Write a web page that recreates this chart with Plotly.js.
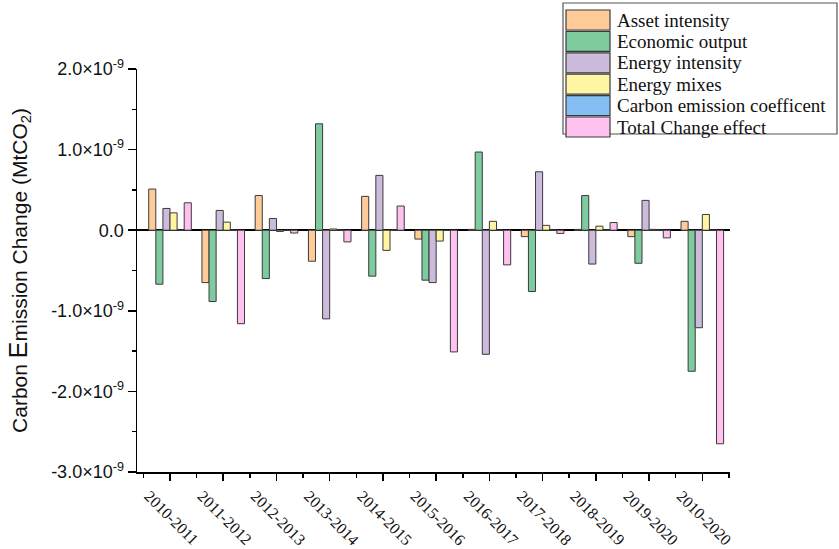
<!DOCTYPE html>
<html>
<head>
<meta charset="utf-8">
<script src="https://cdn.plot.ly/plotly-3.0.1.min.js"></script>
<style>html,body{margin:0;padding:0;background:#fff;}#chart{width:839px;height:549px;}</style>
</head>
<body>
<div id="chart"></div>
<script>
const categories = ["2010-2011","2011-2012","2012-2013","2013-2014","2014-2015","2015-2016","2016-2017","2017-2018","2018-2019","2019-2020","2010-2020"];
const assetIntensity   = [0.51e-9,-0.65e-9,0.43e-9,-0.385e-9,0.42e-9,-0.11e-9,0.01e-9,-0.08e-9,0.01e-9,-0.08e-9,0.11e-9];
const economicOutput   = [-0.67e-9,-0.885e-9,-0.60e-9,1.32e-9,-0.57e-9,-0.62e-9,0.97e-9,-0.76e-9,0.43e-9,-0.41e-9,-1.75e-9];
const energyIntensity  = [0.27e-9,0.245e-9,0.145e-9,-1.10e-9,0.68e-9,-0.65e-9,-1.54e-9,0.725e-9,-0.42e-9,0.37e-9,-1.21e-9];
const energyMixes      = [0.215e-9,0.10e-9,-0.015e-9,0.015e-9,-0.25e-9,-0.135e-9,0.11e-9,0.06e-9,0.05e-9,0.01e-9,0.195e-9];
const carbonCoeff      = [0.003e-9,0.003e-9,-0.003e-9,0.003e-9,0.003e-9,-0.003e-9,0.003e-9,0.003e-9,0.003e-9,0.003e-9,0.003e-9];
const totalChange      = [0.34e-9,-1.16e-9,-0.035e-9,-0.145e-9,0.30e-9,-1.51e-9,-0.43e-9,-0.04e-9,0.095e-9,-0.095e-9,-2.65e-9];
const yTickVals  = [-3e-9,-2e-9,-1e-9,0,1e-9,2e-9];
const yTickText  = ["-3.0×10<sup>-9</sup>","-2.0×10<sup>-9</sup>","-1.0×10<sup>-9</sup>","0.0","1.0×10<sup>-9</sup>","2.0×10<sup>-9</sup>"];

const xIdx = categories.map((_, i) => i);
const series = [
  {name: "Asset intensity", y: assetIntensity, color: "#FFCC99"},
  {name: "Economic output", y: economicOutput, color: "#7DCB9E"},
  {name: "Energy intensity", y: energyIntensity, color: "#CDBBDB"},
  {name: "Energy mixes", y: energyMixes, color: "#FFF5A3"},
  {name: "Carbon emission coefficent", y: carbonCoeff, color: "#84BEF4"},
  {name: "Total Change effect", y: totalChange, color: "#FFC2F0"}
];
const traces = series.map(s => ({
  type: "bar", x: xIdx, y: s.y, name: s.name, showlegend: false,
  marker: {color: s.color, line: {color: "#3a3a3a", width: 1}}
}));

// Plot area in pixels (for placing the legend box in paper coordinates)
const W = 839, H = 549, mL = 137, mR = 109, mT = 69, mB = 77;
const pw = W - mL - mR, ph = H - mT - mB;
const px2x = p => (p - mL) / pw;
const py2y = p => (H - mB - p) / ph;

const shapes = [{
  type: "rect", xref: "paper", yref: "paper",
  x0: px2x(563), x1: px2x(837), y0: py2y(3), y1: py2y(134),
  line: {color: "#555", width: 1.2}, fillcolor: "#fff", layer: "above"
}];
const annotations = [];
series.forEach((s, i) => {
  const cy = 20 + 21.4 * i;
  shapes.push({
    type: "rect", xref: "paper", yref: "paper",
    x0: px2x(566), x1: px2x(610), y0: py2y(cy + 10), y1: py2y(cy - 10),
    line: {color: "#3a3a3a", width: 1.2}, fillcolor: s.color, layer: "above"
  });
  annotations.push({
    xref: "paper", yref: "paper", x: px2x(615), y: py2y(cy),
    xanchor: "left", yanchor: "middle", showarrow: false, text: s.name,
    font: {family: "Liberation Serif, Times New Roman, serif", size: 19, color: "#111"}
  });
});

const layout = {
  width: W, height: H,
  margin: {l: mL, r: mR, t: mT, b: mB, autoexpand: false},
  paper_bgcolor: "#fff", plot_bgcolor: "#fff",
  barmode: "group", bargap: 0.2, bargroupgap: 0,
  showlegend: false,
  shapes: shapes, annotations: annotations,
  xaxis: {
    type: "linear", range: [-0.62, 10.52],
    tickvals: xIdx, ticktext: categories, tickangle: 45, ticklabelshift: -21,
    ticks: "outside", ticklen: 7, tickwidth: 1.5, tickcolor: "#000",
    minor: {ticks: "outside", ticklen: 4, tick0: 0.5, dtick: 1, tickcolor: "#000", tickwidth: 1.5},
    showline: true, linecolor: "#000", linewidth: 1.5,
    showgrid: false, zeroline: false, automargin: false,
    tickfont: {family: "Liberation Serif, Times New Roman, serif", size: 16, color: "#111"}
  },
  yaxis: {
    range: [-3e-9, 2e-9], automargin: false,
    tickvals: yTickVals, ticktext: yTickText,
    ticks: "outside", ticklen: 8, tickwidth: 1.5, tickcolor: "#000",
    minor: {ticks: "outside", ticklen: 4, tick0: -3e-9, dtick: 0.5e-9, tickcolor: "#000", tickwidth: 1.5},
    showline: true, linecolor: "#000", linewidth: 1.5,
    showgrid: false, zeroline: true, zerolinecolor: "#000", zerolinewidth: 1.5,
    tickfont: {family: "Liberation Sans, Arial, sans-serif", size: 18, color: "#111"},
    title: {text: "Carbon <span style='font-size:25px'>E</span>mission Change (MtCO<sub>2</sub>)", standoff: 18,
            font: {family: "Liberation Sans, Arial, sans-serif", size: 21, color: "#111"}}
  }
};
Plotly.newPlot("chart", traces, layout, {displayModeBar: false, staticPlot: true});
</script>
</body>
</html>
